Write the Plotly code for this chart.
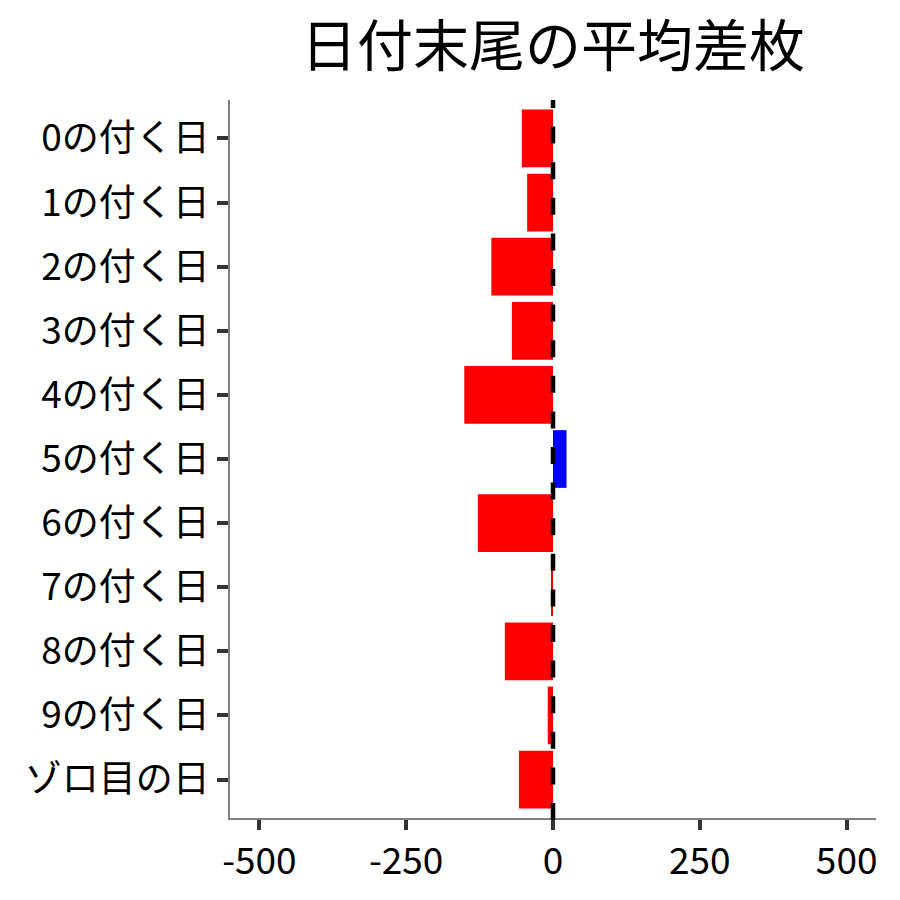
import plotly.graph_objects as go

categories = ["0の付く日", "1の付く日", "2の付く日", "3の付く日", "4の付く日",
              "5の付く日", "6の付く日", "7の付く日", "8の付く日", "9の付く日", "ゾロ目の日"]
values = [-53, -44, -105, -70, -151, 23, -128, -3, -82, -9, -58]
x_ticks = [-500, -250, 0, 250, 500]
x_tick_labels = ["-500", "-250", "0", "250", "500"]

colors = ["#0000FF" if v > 0 else "#FF0000" for v in values]

FONT = "Noto Sans CJK JP"

fig = go.Figure(go.Bar(
    x=values, y=categories, orientation="h",
    marker=dict(color=colors, line=dict(width=0)),
    width=0.9,
))

fig.add_shape(type="line", xref="x", yref="paper", x0=0, x1=0, y0=-2/718, y1=1,
              line=dict(color="black", width=4.5, dash="17px,18.6px"), layer="above")

fig.update_layout(
    width=900, height=900,
    paper_bgcolor="white", plot_bgcolor="white",
    margin=dict(l=222, r=32, t=92, b=90),
    font=dict(family=FONT, color="black"),
    showlegend=False,
    title=dict(text="日付末尾の平均差枚", font=dict(family=FONT, size=56, color="black"),
               x=545/900, xanchor="center", xref="container",
               y=1 - 38/900, yanchor="middle", yref="container"),
    bargap=0.1,
)
fig.update_xaxes(
    range=[-550, 550], tickvals=x_ticks, ticktext=x_tick_labels,
    showgrid=False, zeroline=False,
    showline=True, linecolor="#808080", linewidth=1.5,
    ticks="outside", ticklen=10, tickwidth=4, tickcolor="#333333",
    tickfont=dict(family=FONT, size=37, color="black"),
)
fig.update_yaxes(
    categoryorder="array", categoryarray=categories,
    range=[10.6, -0.6], autorange=False,
    showgrid=False, zeroline=False,
    showline=True, linecolor="#808080", linewidth=1.5,
    ticks="outside", ticklen=11, tickwidth=4, tickcolor="#333333",
    tickfont=dict(family=FONT, size=37, color="black"),
)

fig.write_html("out.html")
